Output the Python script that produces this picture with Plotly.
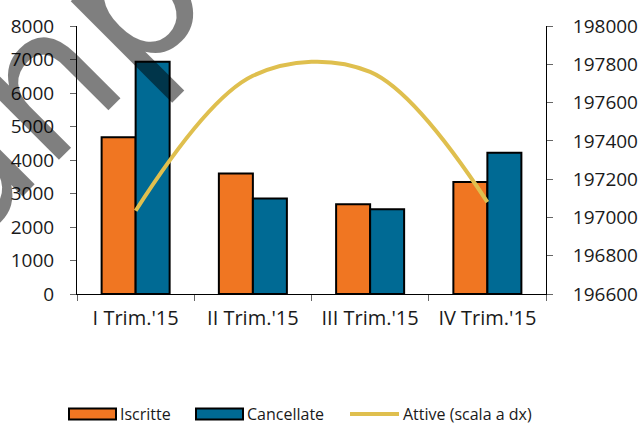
import plotly.graph_objects as go

categories = ["I Trim.'15", "II Trim.'15", "III Trim.'15", "IV Trim.'15"]
iscritte = [4680, 3600, 2680, 3340]
cancellate = [6930, 2850, 2530, 4220]
attive = [197035, 197740, 197760, 197080]

legend_labels = ["Iscritte", "Cancellate", "Attive (scala a dx)"]
colors = ["#F07622", "#006A94", "#DFBF4E"]

FONT = "Open Sans"
TXT = "#1a1a1a"
L, R, T, B = 77, 546, 26, 294
W, H = 639, 425


def px(x):
    return (x - L) / (R - L)


def py(y):
    return (B - y) / (B - T)


fig = go.Figure()
fig.add_trace(go.Bar(x=categories, y=iscritte, name=legend_labels[0],
                     marker=dict(color=colors[0], line=dict(color="black", width=2))))
fig.add_trace(go.Bar(x=categories, y=cancellate, name=legend_labels[1],
                     marker=dict(color=colors[1], line=dict(color="black", width=2))))
fig.add_trace(go.Scatter(x=categories, y=attive, name=legend_labels[2], yaxis="y2",
                         mode="lines", line=dict(color=colors[2], width=4, shape="spline", smoothing=1.0)))

fig.update_layout(
    width=W, height=H,
    margin=dict(l=L, r=W - R, t=T, b=H - B, autoexpand=False),
    paper_bgcolor="white", plot_bgcolor="white",
    font=dict(family=FONT, size=18, color=TXT),
    barmode="group", bargap=0.42, bargroupgap=0,
    showlegend=False,
    xaxis=dict(showline=True, linecolor="black", linewidth=1, ticks="outside", ticklen=6,
               tickcolor="#666", tickson="boundaries", showgrid=False, automargin=False,
               tickfont=dict(size=20), ticklabelstandoff=6),
    yaxis=dict(range=[0, 8000], dtick=1000, showline=True, linecolor="black", linewidth=1,
               ticks="outside", ticklen=6, tickcolor="#666", showgrid=False, zeroline=False,
               automargin=False, tickformat="d",
               tickfont=dict(size=19), ticklabelstandoff=12),
    yaxis2=dict(range=[196600, 198000], dtick=200, overlaying="y", side="right",
                showline=True, linecolor="black", linewidth=1, ticks="outside", ticklen=6,
                tickcolor="#666", showgrid=False, zeroline=False, automargin=False,
                tickformat="d", tickfont=dict(size=19), ticklabelstandoff=16),
)

# custom legend (wide swatches as in the reference)
ly = py(414)
sw_h = 5.5 / (B - T)
swatches = [(69, 116), (196, 243)]
for (x0, x1), c in zip(swatches, colors[:2]):
    fig.add_shape(type="rect", xref="paper", yref="paper", x0=px(x0), x1=px(x1),
                  y0=ly - sw_h, y1=ly + sw_h, fillcolor=c, line=dict(color="black", width=2))
fig.add_shape(type="line", xref="paper", yref="paper", x0=px(350), x1=px(399), y0=ly, y1=ly,
              line=dict(color=colors[2], width=4))
for xs, lab in zip([119, 246, 402], legend_labels):
    fig.add_annotation(text=lab, xref="paper", yref="paper", x=px(xs), y=ly, xanchor="left",
                       yanchor="middle", showarrow=False, borderpad=0,
                       font=dict(size=16, color=TXT))

# watermark (partially visible, rotated)
fig.add_annotation(text="unp", xref="paper", yref="paper", x=px(43), y=py(84),
                   xanchor="center", yanchor="middle", showarrow=False, textangle=-45,
                   font=dict(family="DejaVu Sans", size=190, color="rgba(0,0,0,0.5)"))

fig.write_html("out.html", post_script="document.body.style.margin='0';",
               config={"displayModeBar": False})
